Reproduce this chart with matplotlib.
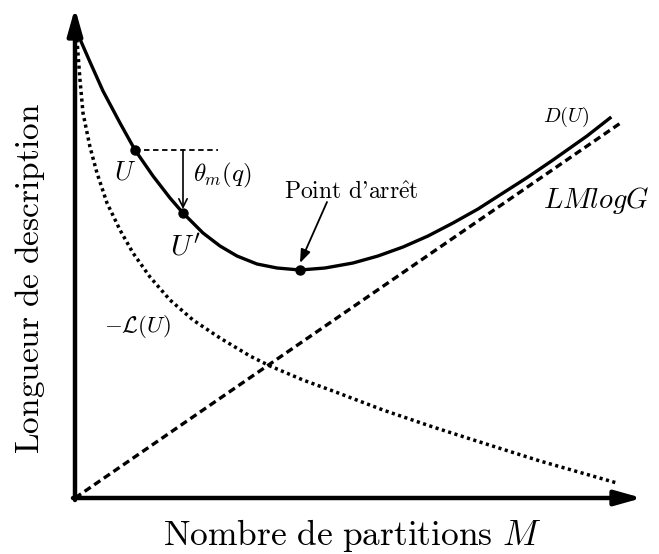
import matplotlib
matplotlib.use("Agg")
import matplotlib.pyplot as plt

plt.rcParams['mathtext.fontset'] = 'cm'

# Schematic values (x: units from origin, y: units above origin)
d_x = [1, 15, 28, 45, 60, 78, 95, 108, 128, 145, 162, 182, 202, 225, 250, 278, 303, 328,
       353, 378, 403, 428, 453, 478, 495, 512, 535]
d_y = [468, 436, 407, 375, 348, 322, 300, 285, 265, 252, 242, 234, 230, 228, 230, 235, 242, 251,
       262, 275, 289, 305, 321, 338, 350, 362, 380]
l_x = [0, 2, 5, 8, 15, 22, 32, 45, 58, 75, 95, 118, 145, 175, 195, 228, 258, 308, 358, 408, 465, 542]
l_y = [465, 458, 418, 385, 351, 325, 295, 268, 245, 221, 198, 178, 160, 142, 132, 118, 107, 88, 71, 55, 37, 15]
g_x = [0, 547]
g_y = [0, 376]
pts_x = [60, 108, 225]
pts_y = [348, 285, 228]

fig = plt.figure(figsize=(6.59, 5.54), dpi=100)
ax = fig.add_axes([0, 0, 1, 1])
ax.set_xlim(-75, 584)
ax.set_ylim(-56, 498)
ax.axis('off')

lw_c = 2.4
ax.plot(d_x, d_y, color='black', lw=lw_c, solid_joinstyle='round', zorder=3)
ax.plot(g_x, g_y, color='black', lw=lw_c, ls=(0, (2.2, 1.3)), zorder=3)
ax.plot(l_x, l_y, color='black', lw=2.5, ls=(0, (0.9, 1.0)), dash_capstyle='butt', zorder=3)
ax.plot(pts_x, pts_y, 'o', color='black', ms=6.5, zorder=4)

# axes arrows
ax.annotate('', xy=(0, 490), xytext=(0, -2),
            arrowprops=dict(arrowstyle='-|>,head_length=1.6,head_width=0.45', lw=3.2, color='black', shrinkA=0, shrinkB=0))
ax.annotate('', xy=(567, 0), xytext=(-2, 0),
            arrowprops=dict(arrowstyle='-|>,head_length=1.6,head_width=0.45', lw=3.2, color='black', shrinkA=0, shrinkB=0))

# theta construction
ax.plot([pts_x[0], 143], [pts_y[0], pts_y[0]], color='black', lw=1.3, ls=(0, (3, 2)))
ax.annotate('', xy=(pts_x[1], pts_y[1] + 4), xytext=(pts_x[1], pts_y[0]),
            arrowprops=dict(arrowstyle='->,head_length=0.6,head_width=0.3', lw=1.2, color='black', shrinkA=0, shrinkB=0))

ax.text(50, 326, r'$U$', fontsize=19, ha='center', va='center')
ax.text(110, 251, r"$U'$", fontsize=21, ha='center', va='center')
ax.text(147, 323, r'$\theta_m(q)$', fontsize=18, ha='center', va='center')
ax.text(62, 171, r'$-\mathcal{L}(U)$', fontsize=16.5, ha='center', va='center')
ax.text(491, 381, r'$D(U)$', fontsize=14.5, ha='center', va='center')
ax.text(521, 298, r'$LMlogG$', fontsize=20.5, ha='center', va='center')
ax.text(276, 306, "Point d'arr$\\hat{\\mathrm{e}}$t", fontsize=17, ha='center', va='center',
        family=['cmr10', 'DejaVu Serif'])
ax.annotate('', xy=(225, 235), xytext=(252, 296),
            arrowprops=dict(arrowstyle='-|>,head_length=0.8,head_width=0.3', lw=1.3, color='black', shrinkA=0, shrinkB=0))

ax.text(277, -37, r'$\mathrm{Nombre\ de\ partitions}\ M$', fontsize=25.5, ha='center', va='center')
ax.text(-45, 220, r'$\mathrm{Longueur\ de\ description}$', fontsize=24, ha='center', va='center', rotation=90)

fig.savefig('out.png', dpi=100)
